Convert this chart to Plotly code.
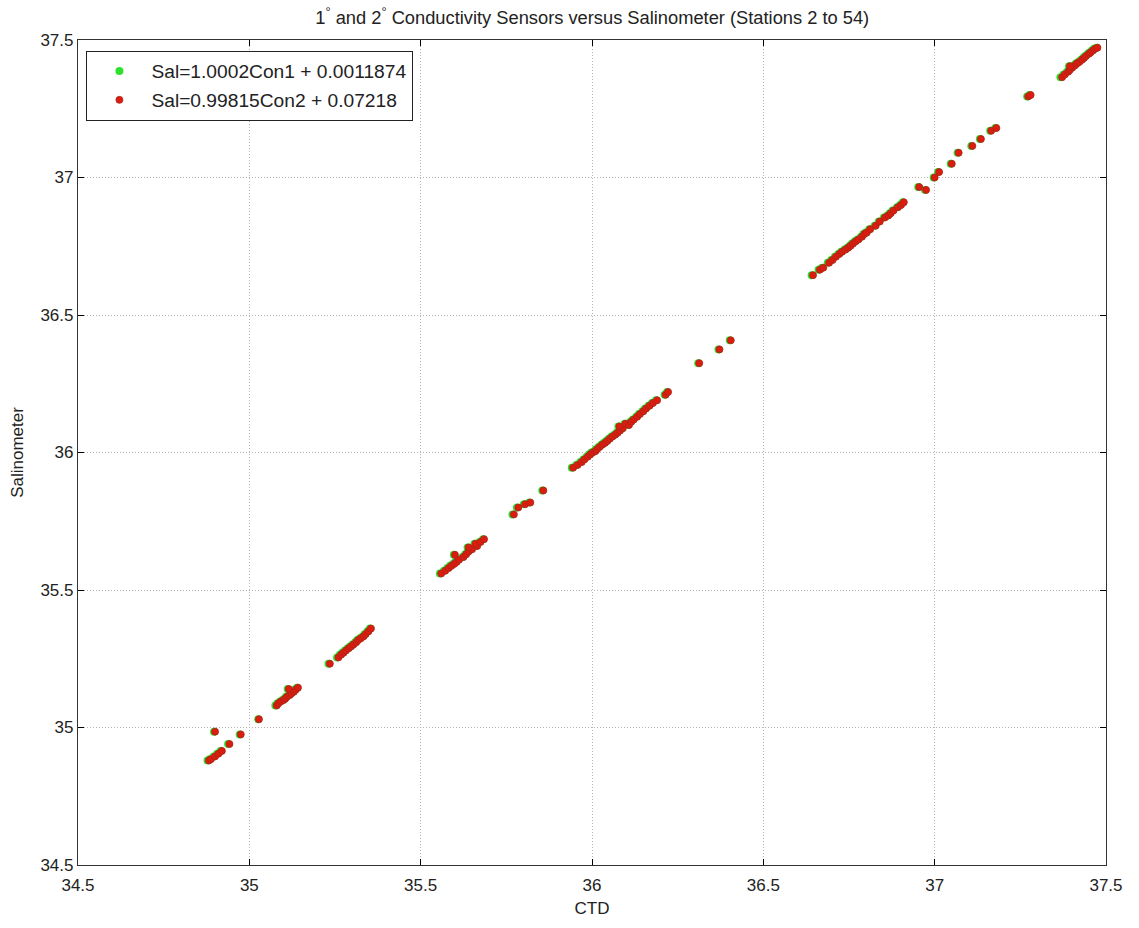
import plotly.graph_objects as go

# Salinometer bottle values
sal = [
    34.880, 34.885, 34.895, 34.905, 34.915, 34.985, 34.940, 34.975, 35.030,
    35.080, 35.088, 35.095, 35.100, 35.105, 35.112, 35.118, 35.125, 35.130, 35.138, 35.145, 35.140,
    35.232, 35.255, 35.265, 35.272, 35.280, 35.288, 35.295, 35.302, 35.310, 35.318, 35.325, 35.332, 35.340, 35.350, 35.360,
    35.560, 35.570, 35.580, 35.588, 35.595, 35.602, 35.610, 35.628, 35.620, 35.630, 35.640, 35.648, 35.660, 35.668, 35.675, 35.685, 35.655,
    35.775, 35.800, 35.812, 35.818, 35.862,
    35.945, 35.955, 35.965, 35.975, 35.985, 35.993, 36.000, 36.005, 36.012, 36.020, 36.028, 36.035, 36.042, 36.050, 36.058, 36.065,
    36.072, 36.080, 36.088, 36.095, 36.105, 36.100, 36.112, 36.120, 36.130, 36.140, 36.150, 36.160, 36.170, 36.180, 36.190, 36.210, 36.220,
    36.325, 36.375, 36.408,
    36.645, 36.665, 36.672, 36.690, 36.700, 36.712, 36.722, 36.730, 36.738, 36.745, 36.752, 36.760, 36.768, 36.775, 36.785, 36.795,
    36.800, 36.812, 36.825, 36.840, 36.855, 36.862, 36.870, 36.880, 36.892, 36.900, 36.910,
    36.965, 36.955, 37.000, 37.020, 37.050, 37.090, 37.115, 37.140, 37.170, 37.180, 37.295, 37.300,
    37.365, 37.375, 37.385, 37.392, 37.400, 37.408, 37.415, 37.420, 37.428, 37.435, 37.442, 37.450, 37.455, 37.462, 37.468, 37.472, 37.405,
]

# Primary conductivity sensor CTD salinity
con1 = [
    34.878, 34.884, 34.896, 34.906, 34.916, 34.897, 34.938, 34.972, 35.026,
    35.076, 35.082, 35.090, 35.097, 35.102, 35.107, 35.115, 35.121, 35.127, 35.133, 35.139, 35.112,
    35.231, 35.256, 35.264, 35.271, 35.279, 35.287, 35.294, 35.301, 35.309, 35.315, 35.323, 35.331, 35.337, 35.345, 35.352,
    35.556, 35.568, 35.578, 35.586, 35.594, 35.601, 35.608, 35.597, 35.622, 35.630, 35.637, 35.647, 35.662, 35.657, 35.672, 35.682, 35.637,
    35.768, 35.781, 35.801, 35.817, 35.855,
    35.941, 35.954, 35.966, 35.975, 35.984, 35.991, 35.998, 36.006, 36.011, 36.019, 36.027, 36.034, 36.041, 36.049, 36.057, 36.065,
    36.072, 36.079, 36.087, 36.077, 36.095, 36.105, 36.112, 36.119, 36.129, 36.137, 36.147, 36.155, 36.165, 36.175, 36.187, 36.212, 36.219,
    36.310, 36.369, 36.402,
    36.641, 36.661, 36.671, 36.688, 36.698, 36.709, 36.719, 36.727, 36.737, 36.745, 36.752, 36.759, 36.767, 36.775, 36.785, 36.792,
    36.799, 36.809, 36.825, 36.837, 36.852, 36.862, 36.869, 36.877, 36.890, 36.899, 36.907,
    36.952, 36.972, 36.997, 37.010, 37.047, 37.067, 37.107, 37.132, 37.162, 37.177, 37.270, 37.277,
    37.367, 37.376, 37.386, 37.392, 37.399, 37.407, 37.412, 37.419, 37.427, 37.433, 37.439, 37.447, 37.452, 37.459, 37.465, 37.472, 37.392,
]

# Secondary conductivity sensor CTD salinity
con2 = [
    34.882, 34.888, 34.900, 34.910, 34.920, 34.900, 34.942, 34.975, 35.028,
    35.080, 35.085, 35.092, 35.100, 35.105, 35.110, 35.118, 35.124, 35.130, 35.136, 35.142, 35.115,
    35.235, 35.260, 35.268, 35.275, 35.282, 35.290, 35.297, 35.304, 35.312, 35.318, 35.326, 35.334, 35.340, 35.348, 35.355,
    35.560, 35.572, 35.582, 35.590, 35.598, 35.605, 35.612, 35.600, 35.625, 35.633, 35.640, 35.650, 35.665, 35.660, 35.675, 35.685, 35.640,
    35.772, 35.785, 35.805, 35.820, 35.858,
    35.945, 35.958, 35.970, 35.978, 35.988, 35.995, 36.002, 36.010, 36.015, 36.022, 36.030, 36.038, 36.045, 36.052, 36.060, 36.068,
    36.075, 36.082, 36.090, 36.080, 36.098, 36.108, 36.115, 36.122, 36.132, 36.140, 36.150, 36.158, 36.168, 36.178, 36.190, 36.215, 36.222,
    36.313, 36.372, 36.405,
    36.645, 36.665, 36.675, 36.692, 36.702, 36.712, 36.722, 36.730, 36.740, 36.748, 36.755, 36.762, 36.770, 36.778, 36.788, 36.795,
    36.802, 36.812, 36.828, 36.840, 36.855, 36.865, 36.872, 36.880, 36.893, 36.902, 36.910,
    36.955, 36.975, 37.000, 37.013, 37.050, 37.070, 37.110, 37.135, 37.165, 37.180, 37.273, 37.280,
    37.372, 37.380, 37.390, 37.395, 37.402, 37.410, 37.415, 37.422, 37.430, 37.436, 37.442, 37.450, 37.455, 37.462, 37.468, 37.475, 37.395,
]

label1 = "Sal=1.0002Con1 + 0.0011874"
label2 = "Sal=0.99815Con2 + 0.07218"
title = "1<sup>°</sup> and 2<sup>°</sup> Conductivity Sensors versus Salinometer (Stations 2 to 54)"
ticks = [34.5, 35, 35.5, 36, 36.5, 37, 37.5]
tick_text = ["34.5", "35", "35.5", "36", "36.5", "37", "37.5"]

FONT = "Liberation Sans, Arial, sans-serif"

fig = go.Figure()
fig.add_trace(go.Scatter(
    x=con1, y=sal, mode="markers", name=label1, legendgroup="g1",
    marker=dict(color="#2ee02e", size=8, line=dict(width=0)),
))
fig.add_trace(go.Scatter(
    x=con2, y=sal, mode="markers", name=label2, legendgroup="g2",
    marker=dict(color="#dc1c0e", size=7, line=dict(width=0.8, color="#a8261a")),
))

axis_common = dict(
    tickvals=ticks, ticktext=tick_text,
    ticks="inside", ticklen=6, tickcolor="#000", tickwidth=1,
    showline=True, linecolor="#333", linewidth=1.2, mirror="ticks",
    showgrid=True, gridcolor="#b4b4b4", griddash="1px,2px", gridwidth=1,
    zeroline=False,
    tickfont=dict(family=FONT, size=17, color="#222"),
)

fig.update_layout(
    width=1139, height=928,
    margin=dict(l=78, r=33, t=40, b=63),
    paper_bgcolor="white", plot_bgcolor="white",
    title=dict(text=title, x=0.52, xanchor="center", y=0.981, yanchor="middle",
               font=dict(family=FONT, size=18.3, color="#222")),
    xaxis=dict(range=[34.5, 37.5], ticklabelstandoff=4,
               title=dict(text="CTD", font=dict(family=FONT, size=17, color="#222"), standoff=8),
               **axis_common),
    yaxis=dict(range=[34.5, 37.5],
               title=dict(text="Salinometer", font=dict(family=FONT, size=17, color="#222"), standoff=12),
               **axis_common),
    legend=dict(x=0.008, y=0.987, xanchor="left", yanchor="top",
                bgcolor="white", bordercolor="#222", borderwidth=1.2,
                font=dict(family=FONT, size=19.2, color="#222"),
                itemwidth=54, traceorder="grouped", tracegroupgap=1),
    showlegend=True,
)

fig.write_html("out.html")
